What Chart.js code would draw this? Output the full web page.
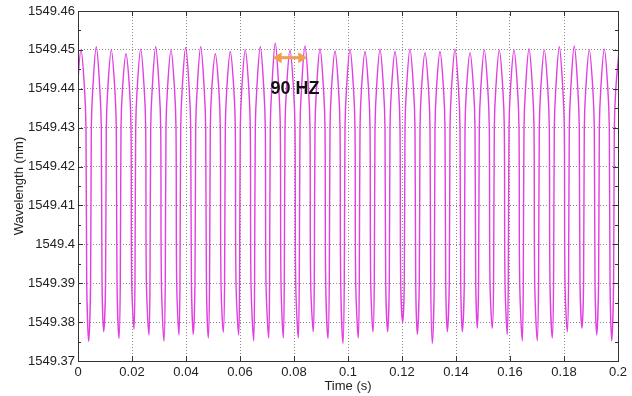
<!DOCTYPE html>
<html>
<head>
<meta charset="utf-8">
<script src="https://cdn.jsdelivr.net/npm/chart.js@4.4.0/dist/chart.umd.min.js"></script>
<style>
  html, body { margin: 0; padding: 0; background: #fff; }
  #wrap { width: 632px; height: 396px; }
</style>
</head>
<body>
<div id="wrap"><canvas id="chart" width="632" height="396"></canvas></div>
<script>
// peak / trough positions (s) and wavelengths (nm)
var peakTime = [0.00111, 0.00678, 0.01233, 0.01778, 0.02322, 0.02878, 0.03444, 0.03989, 0.04544, 0.05085,
                0.05641, 0.06196, 0.06752, 0.07307, 0.07852, 0.08407, 0.08963, 0.09519, 0.10074, 0.10630,
                0.11185, 0.11741, 0.12296, 0.12852, 0.13407, 0.13963, 0.14519, 0.15048, 0.15604, 0.16148,
                0.16704, 0.17270, 0.17826, 0.18381, 0.18937, 0.19493, 0.20049];
var peakWl = [1549.4500, 1549.4508, 1549.4500, 1549.4490, 1549.4502, 1549.4508, 1549.4500, 1549.4506, 1549.4508, 1549.4490,
              1549.4496, 1549.4500, 1549.4508, 1549.4517, 1549.4500, 1549.4510, 1549.4503, 1549.4497, 1549.4502, 1549.4496,
              1549.4502, 1549.4496, 1549.4502, 1549.4493, 1549.4496, 1549.4502, 1549.4493, 1549.4500, 1549.4500, 1549.4500,
              1549.4503, 1549.4500, 1549.4508, 1549.4510, 1549.4500, 1549.4502, 1549.4505];
var troughTime = [0.00396, 0.00952, 0.01519, 0.02074, 0.02630, 0.03185, 0.03741, 0.04270, 0.04826, 0.05381,
                  0.05952, 0.06507, 0.07063, 0.07604, 0.08159, 0.08715, 0.09259, 0.09815, 0.10381, 0.10926,
                  0.11470, 0.12026, 0.12567, 0.13122, 0.13678, 0.14233, 0.14789, 0.15344, 0.15900, 0.16456,
                  0.17011, 0.17567, 0.18122, 0.18667, 0.19211, 0.19767];
var troughWl = [1549.3750, 1549.3775, 1549.3758, 1549.3782, 1549.3767, 1549.3751, 1549.3767, 1549.3768, 1549.3759, 1549.3774,
                1549.3767, 1549.3752, 1549.3759, 1549.3759, 1549.3759, 1549.3775, 1549.3758, 1549.3745, 1549.3759, 1549.3775,
                1549.3775, 1549.3799, 1549.3768, 1549.3745, 1549.3775, 1549.3775, 1549.3784, 1549.3784, 1549.3768, 1549.3752,
                1549.3752, 1549.3759, 1549.3775, 1549.3784, 1549.3767, 1549.3752];
// edge crossings measured around each peak: level (nm) and distance from the peak (s)
var edgeLevel = [1549.44, 1549.43, 1549.39];
var edgeOffset = [0.0013, 0.00185, 0.00212];

var xTicks = [0, 0.02, 0.04, 0.06, 0.08, 0.1, 0.12, 0.14, 0.16, 0.18, 0.2];
var yTicks = [1549.37, 1549.38, 1549.39, 1549.4, 1549.41, 1549.42, 1549.43, 1549.44, 1549.45, 1549.46];

// annotation
var noteText = '90 HZ';
var notePos = [0.0804, 1549.44];
var arrowFrom = [0.0721, 1549.448];
var arrowTo = [0.0849, 1549.448];

var points = [];
for (var i = 0; i < peakTime.length; i++) {
  for (var k = edgeLevel.length - 1; k >= 0; k--) {
    points.push({x: peakTime[i] - edgeOffset[k], y: edgeLevel[k]});
  }
  points.push({x: peakTime[i], y: peakWl[i]});
  if (i < troughTime.length) {
    for (var k = 0; k < edgeLevel.length; k++) {
      points.push({x: peakTime[i] + edgeOffset[k], y: edgeLevel[k]});
    }
    points.push({x: troughTime[i], y: troughWl[i]});
  }
}

function label(v) {
  return String(+(+v).toFixed(2));
}

var frame = {
  id: 'frame',
  afterDatasetsDraw: function(chart) {
    var ctx = chart.ctx, a = chart.chartArea;
    var xs = chart.scales.x, ys = chart.scales.y;
    ctx.save();
    ctx.strokeStyle = '#333';
    ctx.lineWidth = 1;
    ctx.beginPath();
    xTicks.forEach(function(t) {
      var px = Math.round(xs.getPixelForValue(t)) + 0.5;
      ctx.moveTo(px, a.bottom); ctx.lineTo(px, a.bottom - 5);
      ctx.moveTo(px, a.top); ctx.lineTo(px, a.top + 5);
    });
    yTicks.forEach(function(t, j) {
      var py = Math.round(ys.getPixelForValue(t)) + 0.5;
      ctx.moveTo(a.left, py); ctx.lineTo(a.left + 5, py);
      ctx.moveTo(a.right, py); ctx.lineTo(a.right - 5, py);
      if (j < yTicks.length - 1) {
        var pm = Math.round((ys.getPixelForValue(t) + ys.getPixelForValue(yTicks[j + 1])) / 2) + 0.5;
        ctx.moveTo(a.left, pm); ctx.lineTo(a.left + 3, pm);
        ctx.moveTo(a.right, pm); ctx.lineTo(a.right - 3, pm);
      }
    });
    ctx.stroke();
    ctx.strokeRect(Math.round(a.left) + 0.5, Math.round(a.top) + 0.5,
                   Math.round(a.right - a.left), Math.round(a.bottom - a.top));

    // orange double arrow
    var x1 = xs.getPixelForValue(arrowFrom[0]), x2 = xs.getPixelForValue(arrowTo[0]);
    var ay = ys.getPixelForValue(arrowFrom[1]);
    ctx.strokeStyle = '#f0a050';
    ctx.fillStyle = '#f0a050';
    ctx.lineWidth = 3;
    ctx.beginPath();
    ctx.moveTo(x1 + 6, ay); ctx.lineTo(x2 - 6, ay);
    ctx.stroke();
    ctx.beginPath();
    ctx.moveTo(x1, ay); ctx.lineTo(x1 + 9, ay - 5.5); ctx.lineTo(x1 + 9, ay + 5.5); ctx.closePath();
    ctx.moveTo(x2, ay); ctx.lineTo(x2 - 9, ay - 5.5); ctx.lineTo(x2 - 9, ay + 5.5); ctx.closePath();
    ctx.fill();

    // label
    ctx.fillStyle = '#111';
    ctx.font = 'bold 18px "Liberation Sans", Arial, sans-serif';
    ctx.textAlign = 'center';
    ctx.textBaseline = 'middle';
    ctx.fillText(noteText, xs.getPixelForValue(notePos[0]), ys.getPixelForValue(notePos[1]));
    ctx.restore();
  }
};

var ctx = document.getElementById('chart');
var chart = new Chart(ctx, {
  type: 'line',
  data: {
    datasets: [{
      data: points,
      borderColor: '#e23ee2',
      borderWidth: 1.4,
      pointRadius: 0,
      fill: false,
      tension: 0.35
    }]
  },
  options: {
    responsive: false,
    animation: false,
    events: [],
    layout: { padding: { top: 11, right: 14, left: 0, bottom: 0 } },
    plugins: { legend: { display: false }, tooltip: { enabled: false } },
    scales: {
      x: {
        type: 'linear',
        min: 0, max: 0.2,
        afterBuildTicks: function(s) { s.ticks = xTicks.map(function(v) { return {value: v}; }); },
        afterFit: function(s) { s.height = 35; },
        ticks: {
          callback: label,
          color: '#222',
          padding: 4,
          maxRotation: 0,
          font: { family: '"Liberation Sans", Arial, sans-serif', size: 13 }
        },
        grid: { color: '#8a8a8a', lineWidth: 1, drawTicks: false },
        border: { display: false, dash: [1, 2] },
        title: {
          display: true,
          text: 'Time (s)',
          color: '#222',
          padding: { top: 0, bottom: 2 },
          font: { family: '"Liberation Sans", Arial, sans-serif', size: 13 }
        }
      },
      y: {
        min: 1549.37, max: 1549.46,
        afterBuildTicks: function(s) { s.ticks = yTicks.map(function(v) { return {value: v}; }); },
        afterFit: function(s) { s.width = 78; },
        ticks: {
          callback: label,
          color: '#222',
          padding: 3,
          font: { family: '"Liberation Sans", Arial, sans-serif', size: 13 }
        },
        grid: { color: '#8a8a8a', lineWidth: 1, drawTicks: false },
        border: { display: false, dash: [1, 2] },
        title: {
          display: true,
          text: 'Wavelength (nm)',
          color: '#222',
          padding: { top: 12, bottom: 0 },
          font: { family: '"Liberation Sans", Arial, sans-serif', size: 13 }
        }
      }
    }
  },
  plugins: [frame]
});
</script>
</body>
</html>
